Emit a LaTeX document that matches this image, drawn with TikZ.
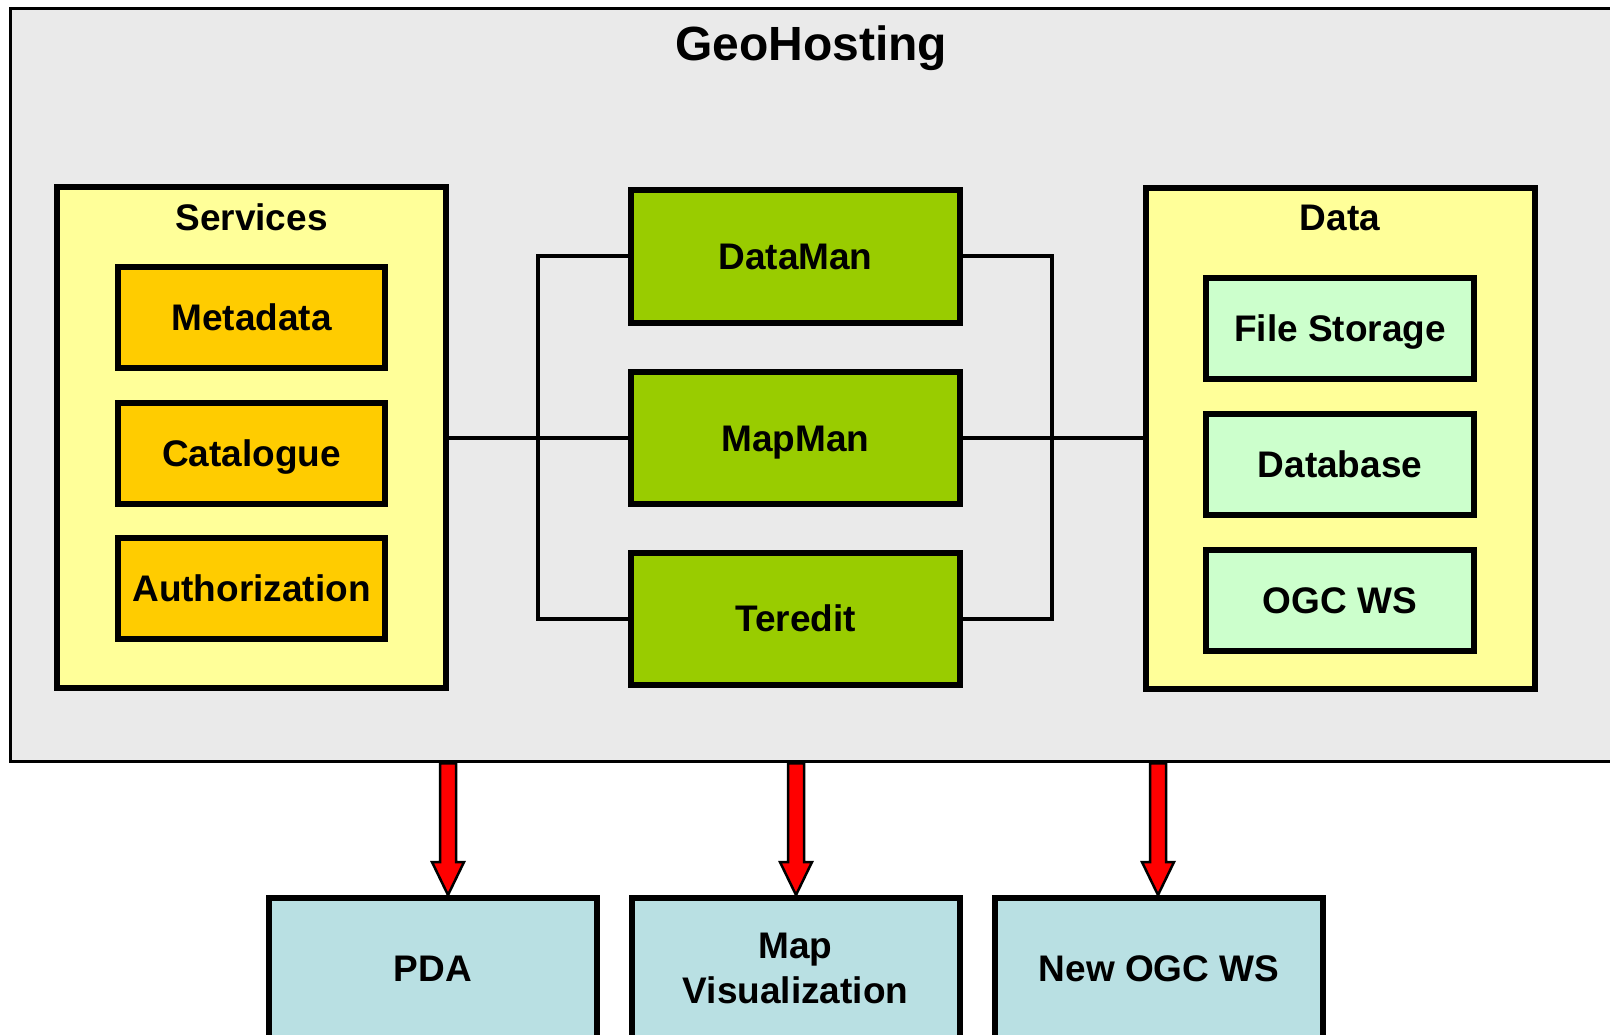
\documentclass[tikz,border=0pt]{standalone}
\usepackage{fontspec}
\setmainfont{Liberation Sans}
\usetikzlibrary{calc}
\definecolor{outergray}{HTML}{EAEAEA}
\definecolor{paleyellow}{HTML}{FFFF99}
\definecolor{svcorange}{HTML}{FFCC00}
\definecolor{appgreen}{HTML}{99CC00}
\definecolor{datagreen}{HTML}{CCFFCC}
\definecolor{clientblue}{HTML}{B9E0E3}
\begin{document}
\begin{tikzpicture}[x=1pt,y=-1pt,
  lbl/.style={font=\fontsize{37}{45}\selectfont\bfseries},
  capfix/.style={text height=26.5pt,text depth=0pt},
  box/.style={rectangle,draw=black,line width=6pt,inner sep=0pt,align=center,lbl},
  groupbox/.style={box,fill=paleyellow,minimum width=389pt,minimum height=501pt},
  svcbox/.style={box,capfix,fill=svcorange,minimum width=267pt,minimum height=101pt},
  appbox/.style={box,capfix,fill=appgreen,minimum width=329pt,minimum height=132pt},
  databox/.style={box,capfix,fill=datagreen,minimum width=268pt,minimum height=101pt},
  clientbox/.style={box,fill=clientblue,minimum width=328pt,minimum height=140pt},
  conn/.style={draw=black,line width=4pt},
  fatarrow/.style={fill=red,draw=black,line width=2.5pt,line join=miter}]
\useasboundingbox (0,0) rectangle (1610,1035);
\clip (0,0) rectangle (1610,1035);
\fill[white] (0,0) rectangle (1610,1035);

% outer container
\node[rectangle,draw=black,line width=3.5pt,fill=outergray,minimum width=1608pt,minimum height=753pt,inner sep=0pt] (geo) at (814.5,385) {};
\node[font=\fontsize{48}{57}\selectfont\bfseries] (geotitle) at (811,48) {GeoHosting};

% services group
\node[groupbox] (services) at (251.5,437.5) {};
\node[lbl] (servicestitle) at (251.5,217) {Services};
\node[svcbox] (metadata) at (251.5,317.5) {Metadata};
\node[svcbox] (catalogue) at (251.5,453) {Catalogue};
\node[svcbox] (authorization) at (251.5,588.5) {Authorization};

% applications
\node[appbox] (dataman) at (795.5,256.5) {DataMan};
\node[appbox] (mapman) at (795.5,438) {MapMan};
\node[appbox] (teredit) at (795.5,618.5) {Teredit};

% data group
\node[groupbox] (data) at (1340,438.5) {};
\node[lbl] (datatitle) at (1340,218) {Data};
\node[databox] (filestorage) at (1340,328.5) {File Storage};
\node[databox] (database) at (1340,464) {Database};
\node[databox] (ogcws) at (1340,600) {OGC WS};

% buses
\coordinate (lbus) at (538,438);
\coordinate (rbus) at (1052,438);
\draw[conn] (services.east |- lbus) -- (mapman.west);
\draw[conn] (dataman.west) -| (lbus) |- (teredit.west);
\draw[conn] (mapman.east) -- (data.west |- rbus);
\draw[conn] (dataman.east) -| (rbus) |- (teredit.east);

% clients
\node[clientbox,capfix] (pda) at (433,968) {PDA};
\node[clientbox] (mapvis) at (795.5,968) {Map\\Visualization};
\node[clientbox,capfix] (newogc) at (1159,968) {New OGC WS};

% arrows
\foreach \tgt/\ax in {pda/448,mapvis/796,newogc/1158}{
  \draw[fatarrow] let \p1=(\ax,0), \p2=(\tgt.north), \p3=(geo.south) in
    (\x1-8pt,\y3) -- (\x1-8pt,\y2+33pt) -- (\x1-16pt,\y2+33pt) -- (\x1,\y2) --
    (\x1+16pt,\y2+33pt) -- (\x1+8pt,\y2+33pt) -- (\x1+8pt,\y3) -- cycle;
}
\end{tikzpicture}
\end{document}
